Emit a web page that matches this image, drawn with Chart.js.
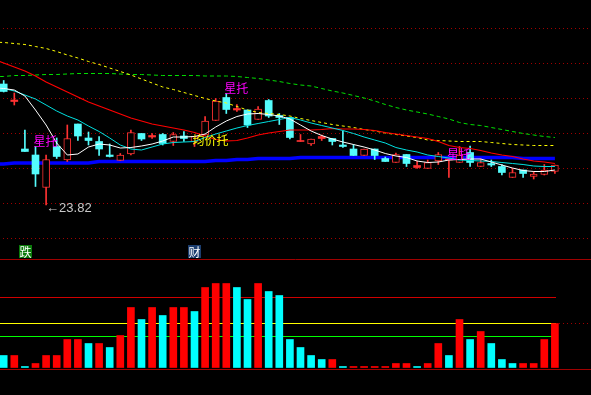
<!DOCTYPE html>
<html>
<head>
<meta charset="utf-8">
<script src="https://cdn.jsdelivr.net/npm/chart.js@4.4.1/dist/chart.umd.min.js"></script>
<style>
html,body{margin:0;padding:0;background:#000;}
#wrap{width:591px;height:395px;}
</style>
</head>
<body>
<div id="wrap"><canvas id="kline" width="591" height="395"></canvas></div>
<script>
// daily candles (price)
let opens =[26.24,25.89,24.94,24.82,24.17,24.99,24.72,25.44,25.16,25.09,24.82,24.71,24.84,25.25,25.18,25.23,25.09,25.20,25.09,25.22,25.51,25.97,25.72,25.72,25.53,25.91,25.61,25.57,25.09,25.04,25.15,25.15,25.02,24.94,24.81,24.94,24.75,24.67,24.83,24.57,24.55,24.70,24.72,24.67,24.87,24.59,24.65,24.59,24.37,24.52,24.39,24.43,24.49];
let highs =[26.31,26.06,25.32,24.99,24.82,25.16,25.42,25.44,25.28,25.19,25.04,24.85,25.32,25.25,25.25,25.25,25.27,25.29,25.19,25.59,25.95,26.05,25.83,25.72,25.79,25.93,25.65,25.57,25.23,25.14,25.22,25.15,25.30,25.03,24.94,24.94,24.78,24.86,24.83,24.70,24.72,24.87,24.75,24.99,25.00,24.74,24.72,24.63,24.55,24.52,24.49,24.63,24.62];
let lows  =[26.08,25.82,24.89,24.19,23.82,24.75,24.69,25.11,25.02,24.81,24.78,24.71,24.82,25.11,25.15,25.02,25.01,25.09,24.99,25.22,25.51,25.65,25.69,25.37,25.53,25.57,25.43,25.14,25.09,25.01,25.11,25.02,24.97,24.81,24.81,24.73,24.69,24.67,24.59,24.55,24.55,24.63,24.37,24.67,24.59,24.59,24.59,24.42,24.37,24.37,24.34,24.42,24.45];
let closes=[26.09,25.92,24.89,24.44,24.73,24.79,25.15,25.20,25.11,24.94,24.79,24.82,25.27,25.14,25.21,25.05,25.23,25.15,25.19,25.50,25.90,25.73,25.75,25.42,25.74,25.60,25.57,25.17,25.10,25.14,25.19,25.09,24.99,24.81,24.94,24.81,24.69,24.83,24.65,24.61,24.67,24.83,24.74,24.82,24.67,24.67,24.62,24.47,24.47,24.45,24.44,24.52,24.62];

// volume and its colour (1 = red, 0 = cyan)
let vols=[3,3,0.25,1,3,3,7,7,6,6,5,8,15,12,15,13,15,15,14,20,21,21,20,17,21,19,18,7,5,3,2,2,0.25,0.25,0.25,0.25,0.25,1,1,0.25,1,6,3,12,7,9,6,2,1,1,1,7,11];
let volUp=[0,1,0,1,1,1,1,1,0,1,0,1,1,0,1,0,1,1,0,1,1,1,0,0,1,0,0,0,0,0,0,1,0,1,1,1,1,1,1,0,1,1,0,1,0,1,0,0,0,1,1,1,1];

// moving averages, first value is the day before the first candle
let ma5  =[26.17,26.15,26.12,26.00,25.72,25.42,25.06,24.82,24.84,24.98,25.04,25.02,24.96,24.97,25.00,25.04,25.10,25.18,25.18,25.19,25.24,25.38,25.50,25.59,25.64,25.65,25.63,25.60,25.54,25.42,25.30,25.21,25.14,25.08,25.03,24.98,24.92,24.85,24.80,24.77,24.70,24.67,24.68,24.72,24.73,24.74,24.74,24.68,24.62,24.56,24.51,24.49,24.49,24.52];
let ma10 =[26.17,26.15,26.10,26.02,25.94,25.82,25.70,25.60,25.52,25.40,25.29,25.16,25.02,24.94,24.92,24.98,25.04,25.07,25.08,25.09,25.17,25.24,25.30,25.36,25.41,25.45,25.49,25.53,25.57,25.52,25.46,25.41,25.36,25.31,25.25,25.18,25.12,25.06,24.97,24.92,24.88,24.82,24.79,24.76,24.72,24.71,24.70,24.69,24.67,24.65,24.63,24.60,24.59,24.59];
let ma20 =[26.74,26.66,26.58,26.50,26.40,26.28,26.18,26.08,25.98,25.88,25.80,25.72,25.64,25.56,25.50,25.44,25.40,25.36,25.32,25.27,25.20,25.13,25.10,25.11,25.16,25.22,25.26,25.29,25.32,25.32,25.32,25.33,25.35,25.34,25.34,25.33,25.31,25.27,25.24,25.21,25.18,25.15,25.09,25.01,24.97,24.95,24.91,24.86,24.82,24.79,24.74,24.70,24.68,24.65];
let ma60 =[27.08,27.07,27.05,27.03,26.99,26.95,26.89,26.82,26.76,26.69,26.63,26.56,26.49,26.42,26.34,26.26,26.18,26.13,26.07,26.01,25.95,25.90,25.86,25.79,25.72,25.67,25.65,25.63,25.60,25.55,25.51,25.47,25.43,25.40,25.37,25.33,25.30,25.26,25.23,25.20,25.17,25.12,25.11,25.10,25.09,25.09,25.09,25.07,25.05,25.03,25.02,25.01,25.01,25.01];
let ma120=[26.39,26.39,26.41,26.41,26.42,26.43,26.43,26.44,26.45,26.45,26.45,26.45,26.44,26.43,26.43,26.42,26.41,26.41,26.41,26.41,26.40,26.40,26.40,26.39,26.37,26.35,26.32,26.29,26.25,26.22,26.20,26.15,26.10,26.06,26.01,25.96,25.90,25.83,25.77,25.72,25.68,25.64,25.59,25.54,25.47,25.43,25.41,25.37,25.33,25.29,25.25,25.22,25.19,25.17];
let ma250=[24.64,24.64,24.66,24.66,24.66,24.66,24.66,24.66,24.66,24.66,24.69,24.69,24.69,24.69,24.69,24.69,24.69,24.69,24.69,24.69,24.69,24.71,24.71,24.73,24.73,24.75,24.75,24.75,24.75,24.77,24.77,24.77,24.77,24.77,24.77,24.77,24.77,24.77,24.77,24.77,24.77,24.77,24.77,24.77,24.77,24.77,24.77,24.77,24.77,24.77,24.75,24.75,24.75,24.75];

// grid prices and volume reference levels
let gridPrices=[27.36,26.66,25.96,25.26,24.56,23.86,23.16];
let volGrid=[11.05];
let volLevels=[27.05,17.55,11.05,7.8,-0.45];

// signal texts
let signals=[
    {i:3, price:24.99, text:"星托"},
    {i:21,price:26.05, text:"星托"},
    {i:42,price:24.73, text:"星托"},
    {i:18,price:25.02, text:"均价托"}
];
let markers=[{i:2,text:"跌"},{i:18,text:"财"}];
let lowIdx=4;

let days=opens.map((v,i)=>i);
let maDays=[-1].concat(days);

const RED="#ff3232", CYAN="#54fcfc";
let isUp=days.map(i=>closes[i]>opens[i]);
let isFlat=days.map(i=>Math.abs(closes[i]-opens[i])<=0.045);
let candleColor=days.map(i=>isUp[i]?RED:CYAN);

let maLine=(arr,color,width,dash,order)=>({
    type:"line",
    data:maDays.map((d,k)=>({x:d,y:arr[k]})),
    borderColor:color,
    borderWidth:width,
    borderDash:dash,
    pointRadius:0,
    tension:0,
    yAxisID:"y",
    order:order
});

let decor={
    id:"decor",
    beforeDatasetsDraw(chart){
        let {ctx,chartArea,scales}=chart;
        let right=Math.round(scales.x.getPixelForValue(days[days.length-1]))+1;
        ctx.save();
        ctx.lineWidth=1;
        ctx.strokeStyle="#a00000";
        ctx.setLineDash([1,3]);
        gridPrices.forEach(p=>{
            let py=Math.round(scales.y.getPixelForValue(p))+0.5;
            ctx.beginPath();ctx.moveTo(3,py);ctx.lineTo(chartArea.right-2,py);ctx.stroke();
        });
        volGrid.forEach(v=>{
            let py=Math.round(scales.yv.getPixelForValue(v))+0.5;
            ctx.beginPath();ctx.moveTo(3,py);ctx.lineTo(chartArea.right-2,py);ctx.stroke();
        });
        ctx.setLineDash([]);
        let colors=["#a00000","#d00000","#ffff00","#00ff00","#a00000"];
        let full=[true,false,false,false,true];
        volLevels.forEach((v,k)=>{
            let py=Math.round(scales.yv.getPixelForValue(v))+0.5;
            ctx.strokeStyle=colors[k];
            ctx.beginPath();ctx.moveTo(0,py);ctx.lineTo(full[k]?chartArea.right:right,py);ctx.stroke();
        });
        ctx.restore();
    },
    afterDatasetsDraw(chart){
        let {ctx,scales}=chart;
        ctx.save();
        ctx.textAlign="left";
        ctx.textBaseline="bottom";
        ctx.font='12px "Noto Sans CJK SC"';
        signals.forEach(s=>{
            ctx.fillStyle=s.text=="均价托"?"#ffff00":"#ff00ff";
            ctx.fillText(s.text,scales.x.getPixelForValue(s.i)-2,scales.y.getPixelForValue(s.price)+1);
        });
        // lowest price
        ctx.fillStyle="#c8c8c8";
        ctx.font='13px "Liberation Sans"';
        ctx.textBaseline="middle";
        ctx.fillText("←"+lows[lowIdx].toFixed(2),scales.x.getPixelForValue(lowIdx),scales.y.getPixelForValue(lows[lowIdx])+3);
        // small boxes above volume
        let boxY=scales.yv.getPixelForValue(29.05);
        markers.forEach((m,k)=>{
            let cx=Math.round(scales.x.getPixelForValue(m.i));
            ctx.fillStyle=k==0?"#0a7a0a":"#1b3d6e";
            ctx.fillRect(cx-6,Math.round(boxY)-6,13,13);
            ctx.fillStyle="#ffffff";
            ctx.font='12px "Noto Sans CJK SC"';
            ctx.textAlign="center";
            ctx.fillText(m.text,cx+0.5,Math.round(boxY)+1);
        });
        ctx.restore();
    }
};

let ctx=document.getElementById("kline").getContext("2d");
new Chart(ctx,{
    type:"bar",
    data:{
        datasets:[
            {
                data:days.map(i=>({x:i,y:vols[i]})),
                backgroundColor:volUp.map(u=>u?"#ff0000":"#00ffff"),
                barThickness:7,
                grouped:false,
                yAxisID:"yv",
                order:12
            },
            maLine(ma250,"#0000ff",3.5,[],11),
            {
                data:days.map(i=>({x:i,y:[lows[i],highs[i]]})),
                backgroundColor:candleColor,
                barThickness:1,
                grouped:false,
                yAxisID:"y",
                order:9
            },
            {
                data:days.map(i=>({x:i,y:[opens[i],closes[i]]})),
                backgroundColor:days.map(i=>isUp[i]&&!isFlat[i]?"#000000":candleColor[i]),
                borderColor:candleColor,
                borderWidth:days.map(i=>isUp[i]&&!isFlat[i]?1:0),
                borderSkipped:false,
                minBarLength:1,
                barThickness:7,
                grouped:false,
                yAxisID:"y",
                order:8
            },
            maLine(ma120,"#00e000",1,[4,3],5),
            maLine(ma60,"#ffff00",1,[3,3],4),
            maLine(ma20,"#ff0000",1.2,[],3),
            maLine(ma10,"#00e0e0",1,[],2),
            maLine(ma5,"#ffffff",1,[],1)
        ]
    },
    options:{
        responsive:false,
        animation:false,
        layout:{padding:0},
        plugins:{legend:{display:false},tooltip:{enabled:false}},
        scales:{
            x:{type:"linear",offset:false,min:-0.349,max:55.406,display:false},
            y:{type:"linear",min:20.02,max:27.92,display:false},
            yv:{type:"linear",min:-6.875,max:91.875,display:false}
        }
    },
    plugins:[decor]
});
</script>
</body>
</html>
